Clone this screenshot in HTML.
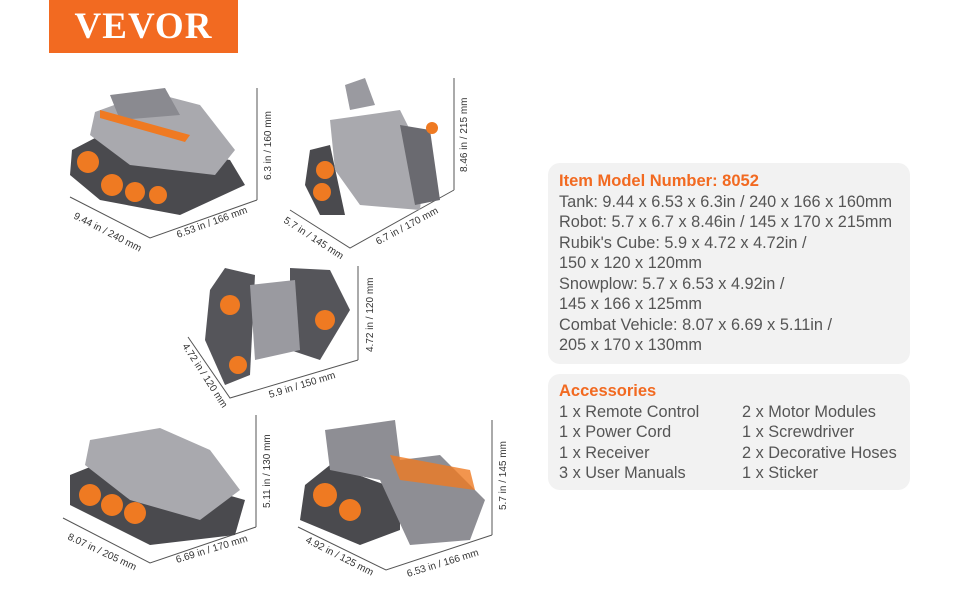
<!DOCTYPE html>
<html><head><meta charset="utf-8"><style>
body{margin:0;width:970px;height:600px;background:#fff;overflow:hidden;position:relative;font-family:"Liberation Sans",Arial,sans-serif}
.logo{position:absolute;left:49px;top:0;width:189px;height:53px;background:#f26a21;color:#fff;font-family:"Liberation Serif",serif;font-weight:bold;font-size:37px;line-height:53px;text-align:center;letter-spacing:1px}
.panel{position:absolute;left:548px;width:362px;background:#f2f2f2;border-radius:12px;box-sizing:border-box;padding:8px 0 0 11px;font-size:16.3px;line-height:20.5px;color:#555}
.h{color:#f26a21;font-weight:bold;font-size:16.5px}
.c2{position:absolute;left:183px}
svg{position:absolute;left:0;top:0}
svg text{font-family:"Liberation Sans",Arial,sans-serif;font-size:10px;fill:#333}
</style></head><body>
<div class="logo">VEVOR</div>
<div class="panel" style="top:163px;height:201px">
<div class="h">Item Model Number: 8052</div>
Tank: 9.44 x 6.53 x 6.3in / 240 x 166 x 160mm<br>
Robot: 5.7 x 6.7 x 8.46in / 145 x 170 x 215mm<br>
Rubik's Cube: 5.9 x 4.72 x 4.72in /<br>
150 x 120 x 120mm<br>
Snowplow: 5.7 x 6.53 x 4.92in /<br>
145 x 166 x 125mm<br>
Combat Vehicle: 8.07 x 6.69 x 5.11in /<br>
205 x 170 x 130mm
</div>
<div class="panel" style="top:374px;height:116px;padding-top:7px">
<div class="h">Accessories</div>
<div style="position:relative">1 x Remote Control<span class="c2">2 x Motor Modules</span><br>
1 x Power Cord<span class="c2">1 x Screwdriver</span><br>
1 x Receiver<span class="c2">2 x Decorative Hoses</span><br>
3 x User Manuals<span class="c2">1 x Sticker</span></div>
</div>
<svg width="970" height="600">
<g stroke="#555" stroke-width="1" fill="none">
<path d="M70 197L150 238L257 200M257 88V200"/>
<path d="M290 210L350 248L454 190M454 78V190"/>
<path d="M188 337L230 398L358 360M358 266V360"/>
<path d="M63 518L150 563L256 527M256 415V527"/>
<path d="M298 527L386 570L492 535M492 420V535"/>
</g>
<!-- tank -->
<polygon points="72,150 95,138 230,160 245,185 180,215 100,200 70,175" fill="#4a4a4e"/>
<polygon points="95,112 150,92 200,105 235,150 215,175 130,165 90,135" fill="#a9a9ae"/>
<polygon points="110,95 165,88 180,115 120,120" fill="#8a8a90"/>
<g fill="#ef7a22"><circle cx="88" cy="162" r="11"/><circle cx="112" cy="185" r="11"/><circle cx="135" cy="192" r="10"/><circle cx="158" cy="195" r="9"/></g>
<polygon points="100,110 190,135 185,142 100,118" fill="#ef7a22"/>
<!-- robot -->
<polygon points="310,150 330,145 345,215 320,215 305,185" fill="#4a4a4e"/>
<polygon points="330,120 400,110 425,160 420,210 360,205 335,170" fill="#a9a9ae"/>
<polygon points="400,125 430,130 440,200 415,205" fill="#6a6a70"/>
<polygon points="345,85 365,78 375,105 350,110" fill="#9a9aa0"/>
<g fill="#ef7a22"><circle cx="325" cy="170" r="9"/><circle cx="322" cy="192" r="9"/><circle cx="432" cy="128" r="6"/></g>
<!-- cube -->
<polygon points="210,290 225,268 255,275 250,375 225,385 205,340" fill="#55555a"/>
<polygon points="290,268 330,270 350,310 320,360 290,350" fill="#55555a"/>
<polygon points="250,285 295,280 300,350 255,360" fill="#9a9aa0"/>
<g fill="#ef7a22"><circle cx="230" cy="305" r="10"/><circle cx="238" cy="365" r="9"/><circle cx="325" cy="320" r="10"/></g>
<!-- combat -->
<polygon points="70,475 95,465 210,490 245,500 235,535 150,545 70,505" fill="#4a4a4e"/>
<polygon points="90,440 160,428 210,450 240,490 200,520 130,500 85,465" fill="#a9a9ae"/>
<g fill="#ef7a22"><circle cx="90" cy="495" r="11"/><circle cx="112" cy="505" r="11"/><circle cx="135" cy="513" r="11"/></g>
<!-- snowplow -->
<polygon points="305,485 330,465 400,490 400,530 360,545 300,520" fill="#4a4a4e"/>
<polygon points="325,430 395,420 400,460 440,455 485,500 470,540 410,545 380,480 330,470" fill="#8e8e94"/>
<polygon points="390,455 470,470 475,490 400,480" fill="#ef7a22" opacity=".8"/>
<g fill="#ef7a22"><circle cx="325" cy="495" r="12"/><circle cx="350" cy="510" r="11"/></g>
<g>
<text transform="translate(73,218) rotate(27)">9.44 in / 240 mm</text>
<text transform="translate(178,238) rotate(-20)">6.53 in / 166 mm</text>
<text transform="translate(271,180) rotate(-90)">6.3 in / 160 mm</text>
<text transform="translate(283,222) rotate(33)">5.7 in / 145 mm</text>
<text transform="translate(378,245) rotate(-28)">6.7 in / 170 mm</text>
<text transform="translate(467,172) rotate(-90)">8.46 in / 215 mm</text>
<text transform="translate(182,346) rotate(57)">4.72 in / 120 mm</text>
<text transform="translate(270,398) rotate(-17)">5.9 in / 150 mm</text>
<text transform="translate(373,352) rotate(-90)">4.72 in / 120 mm</text>
<text transform="translate(67,539) rotate(25)">8.07 in / 205 mm</text>
<text transform="translate(177,563) rotate(-17)">6.69 in / 170 mm</text>
<text transform="translate(270,508) rotate(-90)">5.11 in / 130 mm</text>
<text transform="translate(305,542) rotate(27)">4.92 in / 125 mm</text>
<text transform="translate(408,577) rotate(-17)">6.53 in / 166 mm</text>
<text transform="translate(506,510) rotate(-90)">5.7 in / 145 mm</text>
</g>
</svg>
</body></html>
